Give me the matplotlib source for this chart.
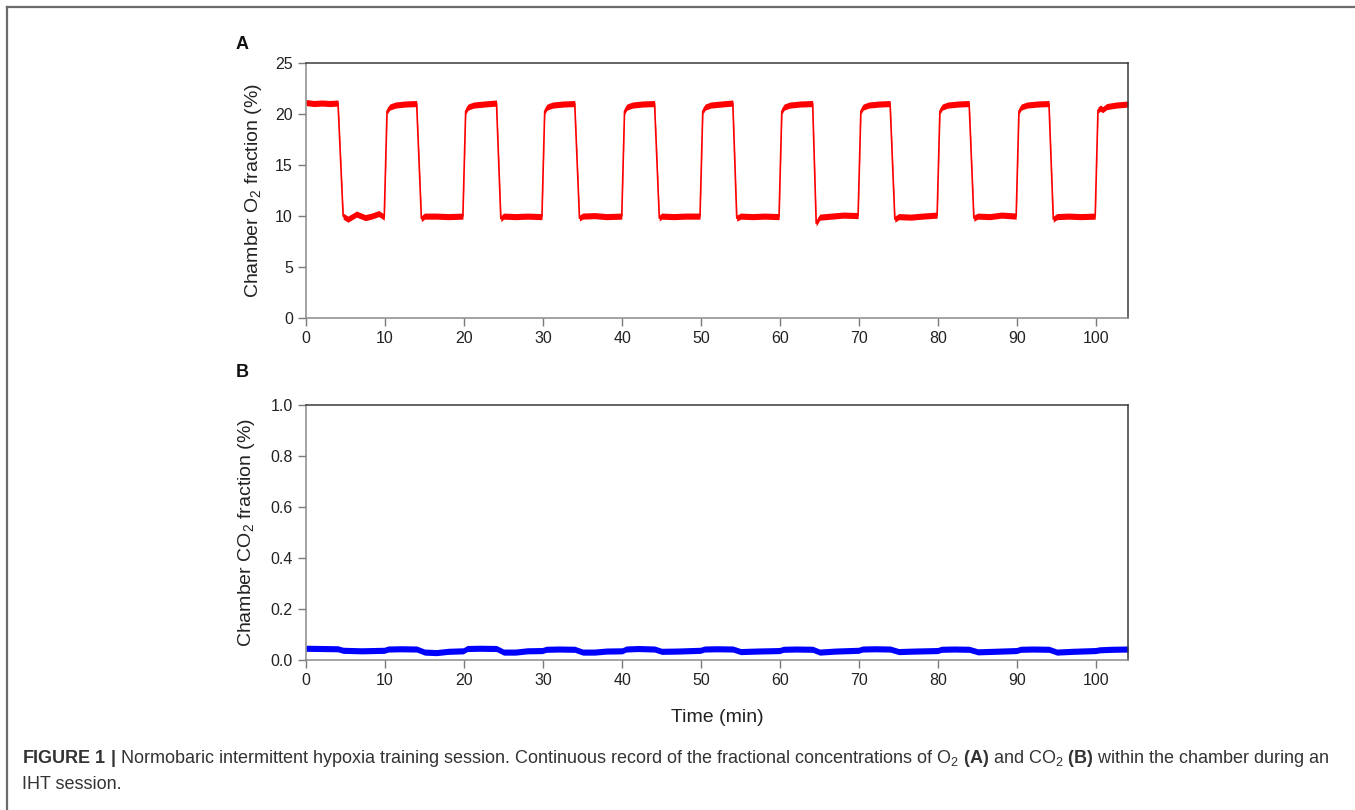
import matplotlib

matplotlib.use("Agg")
import matplotlib.pyplot as plt
from matplotlib.lines import Line2D

plt.rcParams["font.family"] = ["Liberation Sans", "DejaVu Sans"]
plt.rcParams["mathtext.fontset"] = "custom"
plt.rcParams["mathtext.rm"] = "Liberation Sans"
plt.rcParams["mathtext.it"] = "Liberation Sans:italic"
plt.rcParams["mathtext.bf"] = "Liberation Sans:bold"

# O2 trace (min, %): hypoxic drops and normoxic recoveries, one row per cycle
o2_time = [
    0.0, 1.0, 2.0, 3.0, 4.05, 4.7, 5.3, 6.4, 7.5, 8.3, 9.2, 9.9,
    10.25, 10.6, 11.3, 12.5, 14.0, 14.6, 15.0, 16.5, 18.0, 19.85,
    20.2, 20.5, 21.2, 22.5, 24.1, 24.65, 25.0, 26.5, 28.0, 29.85,
    30.2, 30.5, 31.2, 32.5, 34.0, 34.6, 35.0, 36.5, 38.0, 39.95,
    40.3, 40.6, 41.3, 42.5, 44.1, 44.7, 45.0, 46.5, 48.0, 49.85,
    50.2, 50.5, 51.2, 52.5, 54.0, 54.5, 55.0, 56.5, 58.0, 59.85,
    60.2, 60.5, 61.2, 62.5, 64.1, 64.55, 65.0, 66.5, 68.0, 69.85,
    70.2, 70.5, 71.2, 72.5, 73.9, 74.5, 75.0, 76.5, 78.0, 79.85,
    80.2, 80.5, 81.2, 82.5, 83.9, 84.5, 85.0, 86.5, 88.0, 89.85,
    90.2, 90.5, 91.2, 92.5, 94.0, 94.55, 95.0, 96.5, 98.0, 99.85,
    100.2, 100.5, 100.8, 101.3, 102.5, 104.0,
]
o2_value = [
    21.15, 21.05, 21.1, 21.05, 21.1, 10.0, 9.7, 10.2, 9.85, 10.0, 10.25, 9.9,
    20.3, 20.7, 20.9, 21.0, 21.05, 9.75, 10.0, 10.0, 9.95, 10.0,
    20.3, 20.7, 20.9, 21.0, 21.1, 9.75, 10.0, 9.95, 10.0, 9.95,
    20.3, 20.7, 20.9, 21.0, 21.05, 9.8, 10.0, 10.05, 9.95, 10.0,
    20.3, 20.7, 20.9, 21.0, 21.05, 9.8, 10.0, 9.95, 10.0, 10.0,
    20.3, 20.7, 20.9, 21.0, 21.1, 9.8, 10.0, 9.95, 10.0, 9.95,
    20.3, 20.7, 20.9, 21.0, 21.05, 9.3, 9.9, 10.0, 10.1, 10.05,
    20.3, 20.7, 20.9, 21.0, 21.05, 9.7, 9.95, 9.9, 10.0, 10.1,
    20.3, 20.7, 20.9, 21.0, 21.05, 9.8, 10.0, 9.95, 10.1, 10.0,
    20.3, 20.7, 20.9, 21.0, 21.05, 9.7, 9.95, 10.0, 9.95, 10.0,
    20.4, 20.6, 20.45, 20.75, 20.9, 21.0,
]
o2_spread = 0.3  # half-height of the sensor noise band, %

# CO2 trace (min, %)
co2_time = [
    0.0, 2.0, 4.0, 4.7, 7.0, 9.9, 10.4, 12.0, 14.0, 15.0, 16.5, 18.0,
    19.9, 20.4, 22.0, 24.1, 25.0, 26.5, 28.0, 29.9, 30.4, 32.0, 34.0,
    35.0, 36.5, 38.0, 40.0, 40.5, 42.0, 44.1, 45.0, 47.0, 49.9, 50.4,
    52.0, 54.0, 55.0, 57.0, 59.9, 60.4, 62.0, 64.1, 65.0, 67.0, 69.9,
    70.4, 72.0, 73.9, 75.0, 77.0, 79.9, 80.4, 82.0, 83.9, 85.0, 87.0,
    89.9, 90.4, 92.0, 94.0, 95.0, 97.0, 99.9, 100.4, 102.0, 104.0,
]
co2_value = [
    0.046, 0.045, 0.044, 0.038, 0.036, 0.038, 0.043, 0.044, 0.043, 0.031, 0.029, 0.034,
    0.036, 0.045, 0.046, 0.045, 0.031, 0.031, 0.036, 0.037, 0.042, 0.043, 0.042,
    0.031, 0.031, 0.035, 0.036, 0.043, 0.045, 0.043, 0.034, 0.035, 0.038, 0.043,
    0.044, 0.043, 0.033, 0.035, 0.037, 0.042, 0.043, 0.042, 0.031, 0.035, 0.038,
    0.043, 0.044, 0.043, 0.033, 0.035, 0.037, 0.042, 0.043, 0.042, 0.032, 0.034,
    0.037, 0.042, 0.043, 0.042, 0.031, 0.034, 0.037, 0.040, 0.042, 0.043,
]
co2_spread = 0.012

x_ticks = list(range(0, 101, 10))
o2_ticks = [0, 5, 10, 15, 20, 25]
co2_ticks = [0.0, 0.2, 0.4, 0.6, 0.8, 1.0]

W, H = 1355, 810
fig = plt.figure(figsize=(W / 100, H / 100), dpi=100)

# grey frame along the top and left edges of the figure
frame = "#6b6b6b"
fig.add_artist(Line2D([7 / W, 1.0], [1 - 6.5 / H] * 2, color=frame, lw=1.6))
fig.add_artist(Line2D([7 / W] * 2, [0.0, 1 - 6.5 / H], color=frame, lw=1.6))

left, right = 306, 1128
ax_a = fig.add_axes([left / W, 1 - 318 / H, (right - left) / W, (318 - 63.3) / H])
ax_b = fig.add_axes([left / W, 1 - 660 / H, (right - left) / W, (660 - 405) / H])


def style_axis(ax):
    ax.set_xlim(0, 104)
    ax.set_xticks(x_ticks)
    for side in ("left", "bottom"):
        ax.spines[side].set_color("#8a8a8a")
        ax.spines[side].set_linewidth(1.1)
    for side in ("top", "right"):
        ax.spines[side].set_color("#3a3a3a")
        ax.spines[side].set_linewidth(1.1)
    ax.tick_params(direction="out", length=5.5, width=1.0, color="#7a7a7a",
                   labelsize=11.5, labelcolor="#222222", pad=4)


ax_a.fill_between(o2_time, [v - o2_spread for v in o2_value],
                  [v + o2_spread for v in o2_value], color="#ff0000", lw=0)
ax_a.plot(o2_time, o2_value, color="#ff0000", lw=1.2)
style_axis(ax_a)
ax_a.set_ylim(0, 25)
ax_a.set_yticks(o2_ticks)
ax_a.set_ylabel("Chamber O$_2$ fraction (%)", fontsize=14, labelpad=8, color="#222222")

ax_b.fill_between(co2_time, [v - co2_spread for v in co2_value],
                  [v + co2_spread for v in co2_value], color="#0000ff", lw=0)
ax_b.plot(co2_time, co2_value, color="#0000ff", lw=1.0)
style_axis(ax_b)
ax_b.set_ylim(0, 1.0)
ax_b.set_yticks(co2_ticks)
ax_b.set_yticklabels([f"{v:.1f}" for v in co2_ticks])
ax_b.set_ylabel("Chamber CO$_2$ fraction (%)", fontsize=14, labelpad=10, color="#222222")
ax_b.set_xlabel("Time (min)", fontsize=14, labelpad=15, color="#222222")

fig.text(236 / W, 1 - 49 / H, "A", fontsize=13, fontweight="bold", color="#111111")
fig.text(236 / W, 1 - 377 / H, "B", fontsize=13, fontweight="bold", color="#111111")

caption_1 = (r"$\mathbf{FIGURE\ 1\ |}$ Normobaric intermittent hypoxia training session. "
             r"Continuous record of the fractional concentrations of O$_2$ $\mathbf{(A)}$ "
             r"and CO$_2$ $\mathbf{(B)}$ within the chamber during an")
fig.text(22 / W, 1 - 763 / H, caption_1, fontsize=13, color="#333333", va="baseline")
fig.text(22 / W, 1 - 789 / H, "IHT session.", fontsize=13, color="#333333", va="baseline")

fig.savefig("out.png", dpi=100)
plt.close(fig)
